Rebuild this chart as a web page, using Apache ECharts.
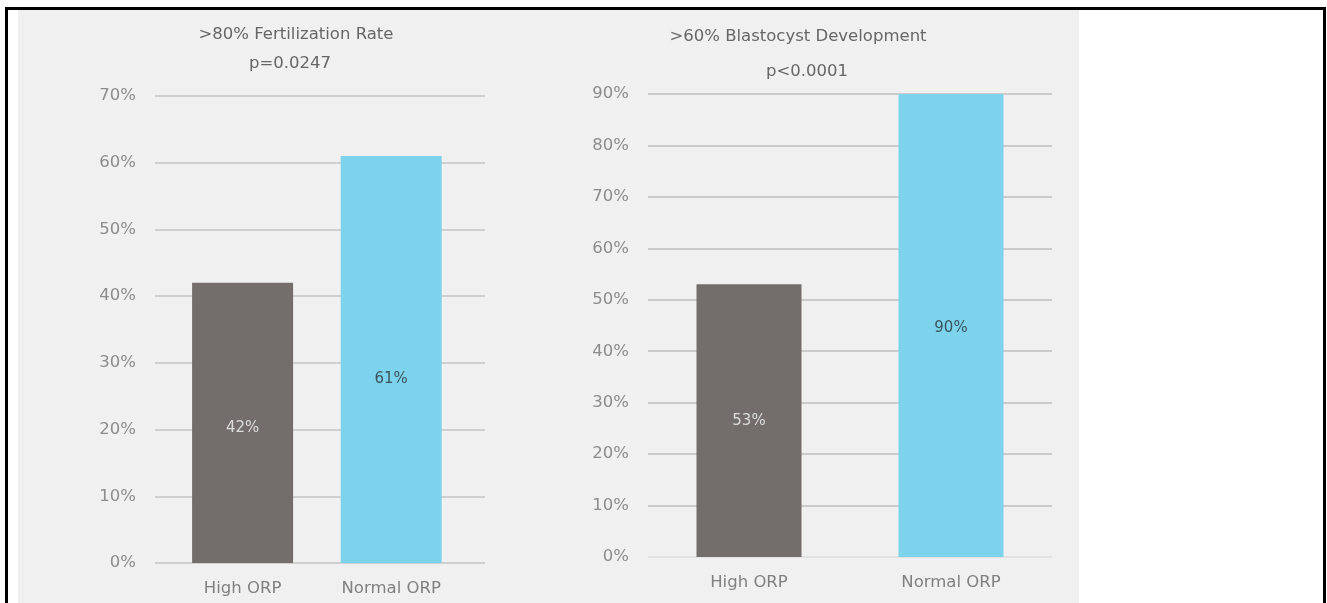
<!DOCTYPE html>
<html>
<head>
<meta charset="utf-8">
<script src="https://cdn.jsdelivr.net/npm/echarts@6/dist/echarts.min.js"></script>
<style>html,body{margin:0;padding:0;background:#fff;}#c{width:1327px;height:603px;}</style>
</head>
<body>
<div id="c"></div>
<script>
const categories = ['High ORP', 'Normal ORP'];
const fertilizationValues = [42, 61];
const blastocystValues = [53, 90];
const leftTitle = '>80% Fertilization Rate';
const leftP = 'p=0.0247';
const rightTitle = '>60% Blastocyst Development';
const rightP = 'p<0.0001';
const leftTicks = { min: 0, max: 70, interval: 10 };
const rightTicks = { min: 0, max: 90, interval: 10 };

const FONT = 'DejaVu Sans';
const FS = 16.5;
const barColors = ['#736e6c', '#7dd3ec'];
const labelColors = ['#dcdcdc', '#3a5560'];
const chart = echarts.init(document.getElementById('c'), null, { renderer: 'canvas' });

function yAxisCfg(gridIndex, t, showLabels, lineColors) {
  return {
    type: 'value', gridIndex, min: t.min, max: t.max, interval: t.interval,
    axisLine: { show: false }, axisTick: { show: false },
    axisLabel: { show: showLabels, formatter: v => v + '%', color: '#8c8c8c', fontFamily: FONT, fontSize: FS, margin: 19 },
    splitLine: { show: !!lineColors, lineStyle: { color: lineColors || '#c4c4c4', width: 1.5 } }
  };
}
function xAxisCfg(gridIndex, showLabels) {
  return {
    type: 'category', gridIndex, data: categories,
    axisLine: { show: false }, axisTick: { show: false },
    axisLabel: { show: showLabels, color: '#808080', fontFamily: FONT, fontSize: FS, margin: 17 }
  };
}
function barData(vals, offsets) {
  return vals.map((v, i) => ({
    value: v,
    itemStyle: { color: barColors[i] },
    label: { offset: [0, offsets[i]], color: labelColors[i] }
  }));
}
const titleStyle = { color: '#666666', fontFamily: FONT, fontSize: FS, fontWeight: 'normal' };

const rightLineColors = ['#dedede'].concat(new Array(9).fill('#bfbfbf'));

chart.setOption({
  animation: false,
  graphic: [
    { type: 'rect', z: -10, shape: { x: 18, y: 10, width: 1061, height: 600 }, style: { fill: '#f0f0f0' } },
    { type: 'rect', z: 100, shape: { x: 6.5, y: 8.5, width: 1318, height: 700 }, style: { fill: 'none', stroke: '#000', lineWidth: 3 } }
  ],
  title: [
    { text: leftTitle, left: 291, top: 21.5, textAlign: 'center', textStyle: titleStyle },
    { text: leftP, left: 285, top: 50.5, textAlign: 'center', textStyle: titleStyle },
    { text: rightTitle, left: 793, top: 23.5, textAlign: 'center', textStyle: titleStyle },
    { text: rightP, left: 802, top: 58.5, textAlign: 'center', textStyle: titleStyle }
  ],
  grid: [
    { left: 155, width: 330, top: 96, bottom: 40 },
    { left: 168.3, width: 297.2, top: 96, bottom: 40 },
    { left: 648, width: 404, top: 94, bottom: 46 }
  ],
  xAxis: [ xAxisCfg(0, false), xAxisCfg(1, true), xAxisCfg(2, true) ],
  yAxis: [
    yAxisCfg(0, leftTicks, true, '#c4c4c4'),
    yAxisCfg(1, leftTicks, false, null),
    yAxisCfg(2, rightTicks, true, rightLineColors)
  ],
  series: [
    {
      type: 'bar', xAxisIndex: 1, yAxisIndex: 1, barWidth: 101,
      data: barData(fertilizationValues, [5, 20]),
      label: { show: true, position: 'inside', formatter: '{c}%', fontFamily: FONT, fontSize: 15 }
    },
    {
      type: 'bar', xAxisIndex: 2, yAxisIndex: 2, barWidth: 105,
      data: barData(blastocystValues, [0, 3]),
      label: { show: true, position: 'inside', formatter: '{c}%', fontFamily: FONT, fontSize: 15 }
    }
  ]
});
</script>
</body>
</html>
